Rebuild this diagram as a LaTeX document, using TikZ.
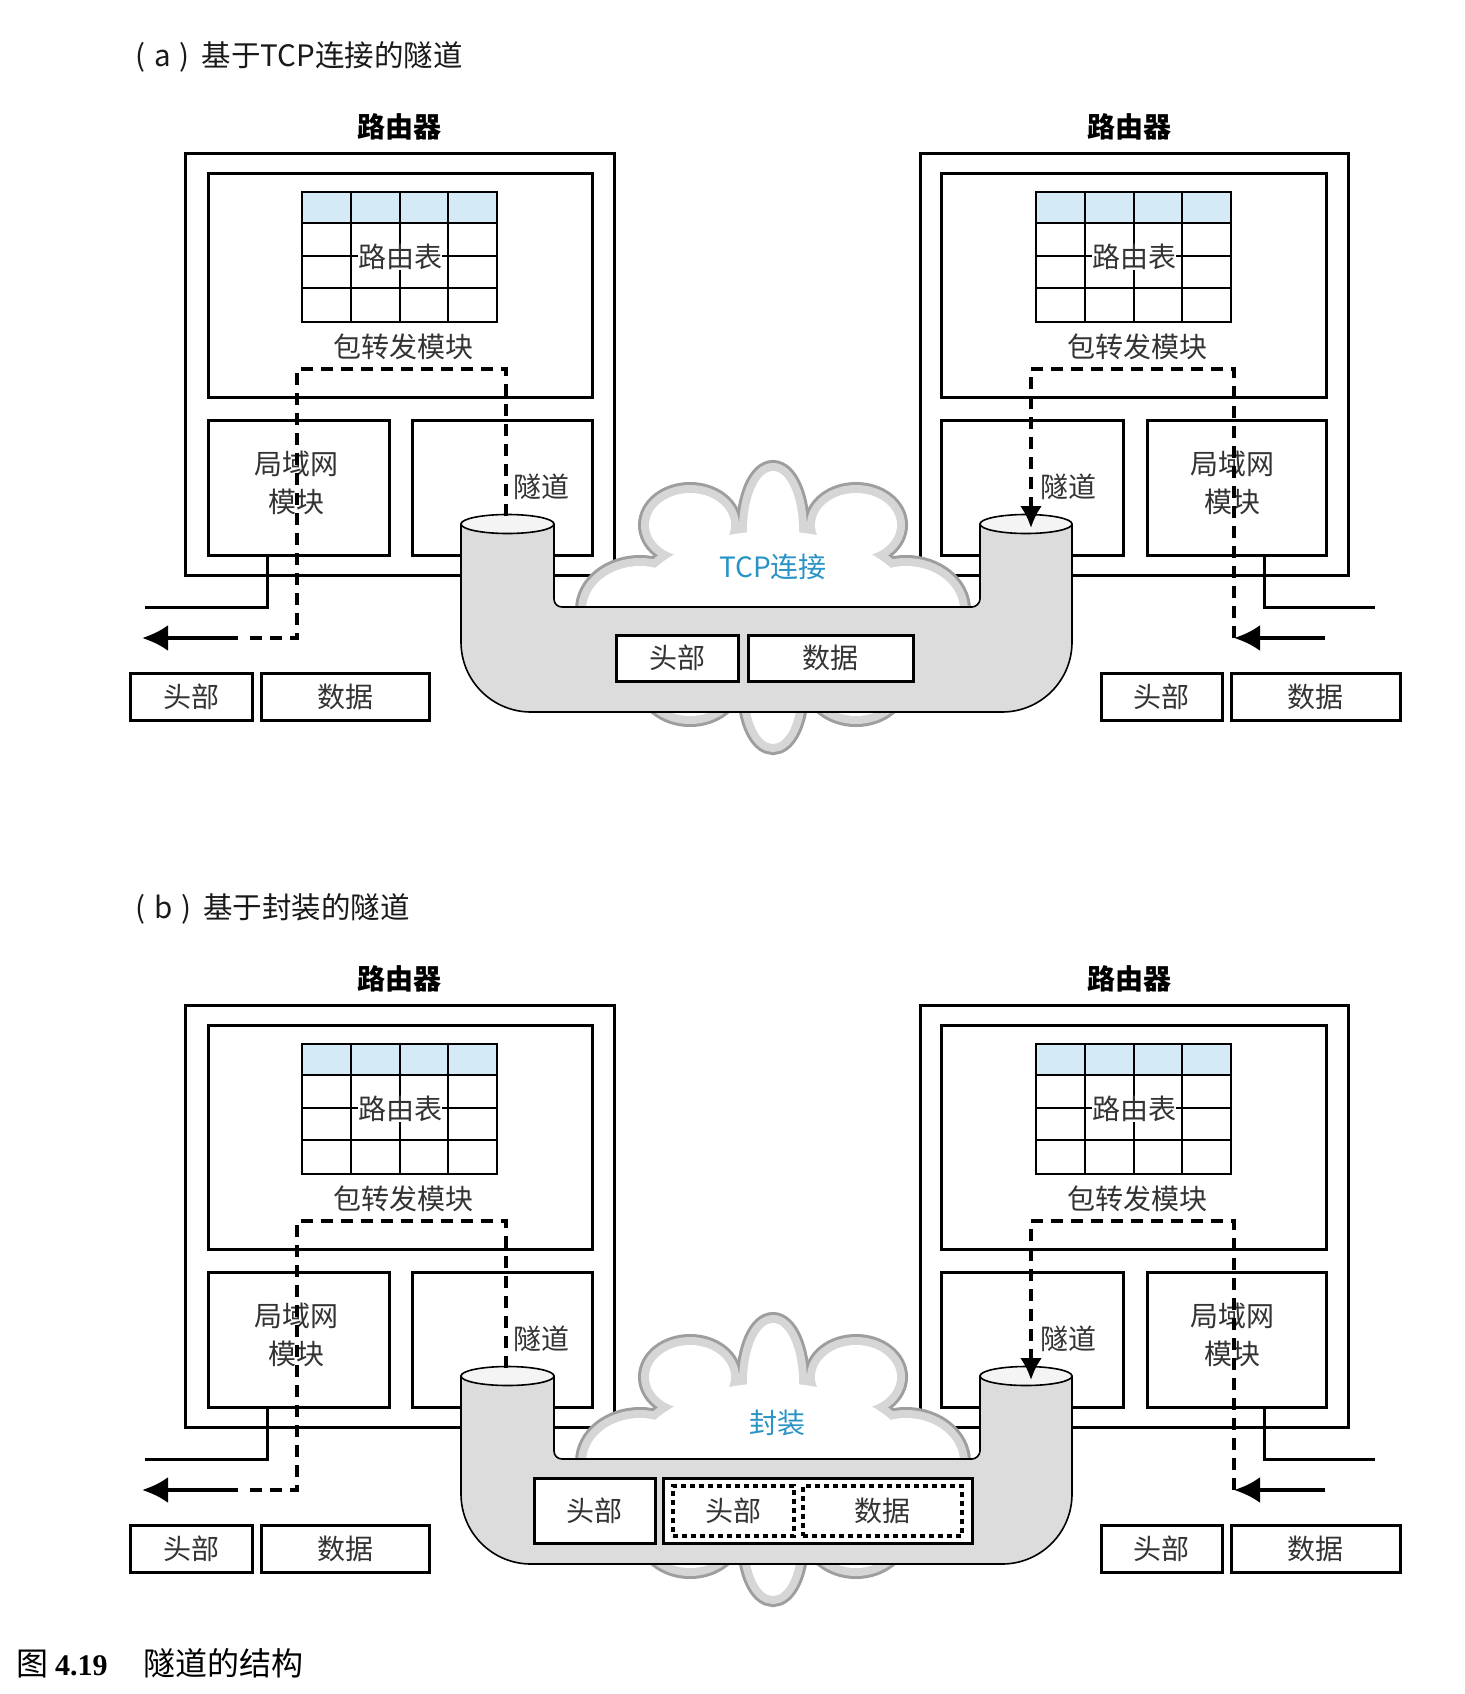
\documentclass[tikz,border=0pt]{standalone}
\usepackage{fontspec}
\usetikzlibrary{arrows.meta}
\newfontfamily\cjk{Noto Sans CJK SC}
\newfontfamily\capserif{Liberation Serif}
\definecolor{txtgray}{HTML}{333333}
\definecolor{hdrblue}{HTML}{D4EAF7}
\definecolor{tubegray}{HTML}{DCDCDC}
\definecolor{rimdark}{HTML}{9E9E9E}
\definecolor{rimlight}{HTML}{D6D6D6}
\definecolor{cloudblue}{HTML}{2A93C6}
\definecolor{topgray}{HTML}{F4F4F4}
\newcommand\lblfont{\cjk\fontsize{28pt}{38pt}\selectfont}
\newcommand\ttlfont{\cjk\fontsize{29.5pt}{32pt}\selectfont}
\newcommand\hdfont{\cjk\bfseries\fontsize{28pt}{30pt}\selectfont}
\tikzset{
  boxline/.style={draw=black, line width=3pt},
  tblline/.style={draw=black, line width=1.8pt},
  lbl/.style={font=\lblfont, text=txtgray, inner sep=0pt},
  hd/.style={font=\hdfont, text=black, inner sep=0pt},
  ttl/.style={font=\ttlfont, text=black!90, inner sep=0pt, anchor=west},
  pktbox/.style={draw=black, line width=3pt, fill=white, font=\lblfont, text=txtgray, inner sep=0pt},
  innerpkt/.style={draw=black, line width=3.2pt, dash pattern=on 5pt off 4pt, font=\lblfont, text=txtgray, inner sep=0pt},
  dashpath/.style={draw=black, line width=4pt, dash pattern=on 12pt off 8pt},
  arrowline/.style={draw=black, line width=4pt},
  tubebody/.style={draw=black, line width=1.6pt, fill=tubegray, line join=round},
  tubetop/.style={draw=black, line width=1.6pt, fill=topgray},
  cloudtxt/.style={font=\lblfont, text=cloudblue, inner sep=0pt},
}
\newcommand\cloudshape[1]{%
  \path[#1] (773,530) ellipse [x radius=26pt, y radius=59pt];
  \path[#1] (690,525) ellipse [x radius=41pt, y radius=32pt];
  \path[#1] (856,525) ellipse [x radius=41pt, y radius=32pt];
  \path[#1] (640,610) ellipse [x radius=54pt, y radius=44pt];
  \path[#1] (906,610) ellipse [x radius=54pt, y radius=44pt];
  \path[#1] (690,680) ellipse [x radius=44pt, y radius=36pt];
  \path[#1] (856,680) ellipse [x radius=44pt, y radius=36pt];
  \path[#1] (773,690) ellipse [x radius=25pt, y radius=54pt];
  \path[#1] (773,610) ellipse [x radius=139pt, y radius=79pt];
}
\newcommand\onepart[2]{%
\begin{scope}[yshift=#2]
  % ---------- left router ----------
  \node[hd] (#1Lname) at (399,127) {路由器};
  \draw[boxline] (185,153) rectangle (614,575);
  \draw[boxline] (208,173) rectangle (592,397);
  \fill[hdrblue] (302,192) rectangle (497,223);
  \draw[tblline] (302,192) rectangle (497,322);
  \draw[tblline] (302,223) -- (497,223) (302,256) -- (497,256) (302,288) -- (497,288)
        (351,192) -- (351,322) (400,192) -- (400,322) (448,192) -- (448,322);
  \node[lbl, fill=white] (#1Ltab) at (400,257) {路由表};
  \node[lbl] (#1Lfwd) at (403,347) {包转发模块};
  \draw[boxline] (208,420) rectangle (389,555);
  \draw[boxline] (412,420) rectangle (592,555);
  \node[lbl, align=center] (#1Llan) at (296,483) {局域网\\模块};
  \node[lbl] (#1Ltun) at (541,487) {隧道};
  % ---------- right router ----------
  \node[hd] (#1Rname) at (1129,127) {路由器};
  \draw[boxline] (920,153) rectangle (1348,575);
  \draw[boxline] (941,173) rectangle (1326,397);
  \fill[hdrblue] (1036,192) rectangle (1231,223);
  \draw[tblline] (1036,192) rectangle (1231,322);
  \draw[tblline] (1036,223) -- (1231,223) (1036,256) -- (1231,256) (1036,288) -- (1231,288)
        (1085,192) -- (1085,322) (1134,192) -- (1134,322) (1182,192) -- (1182,322);
  \node[lbl, fill=white] (#1Rtab) at (1134,257) {路由表};
  \node[lbl] (#1Rfwd) at (1137,347) {包转发模块};
  \draw[boxline] (941,420) rectangle (1123,555);
  \draw[boxline] (1147,420) rectangle (1326,555);
  \node[lbl] (#1Rtun) at (1068,487) {隧道};
  \node[lbl, align=center] (#1Rlan) at (1232,483) {局域网\\模块};
  % ---------- LAN wires ----------
  \coordinate (#1Lw1) at (267,555); \coordinate (#1Lw2) at (267,607); \coordinate (#1Lw3) at (145,607);
  \coordinate (#1Rw1) at (1264,555); \coordinate (#1Rw2) at (1264,607); \coordinate (#1Rw3) at (1375,607);
  \draw[boxline] (#1Lw1) -- (#1Lw2) -- (#1Lw3);
  \draw[boxline] (#1Rw1) -- (#1Rw2) -- (#1Rw3);
  % ---------- cloud ----------
  \cloudshape{draw=rimdark, line width=22pt}
  \cloudshape{draw=rimlight, line width=16pt}
  \cloudshape{fill=white}
  % ---------- tube ----------
  \draw[tubebody] (461,524) -- (461,642) .. controls (461,680.7) and (492.3,712) .. (531,712)
     -- (1002,712) .. controls (1040.7,712) and (1072,680.7) .. (1072,642)
     -- (1072,524) -- (980,524) -- (980,599) .. controls (980,603.4) and (975.6,607) .. (972,607)
     -- (562,607) .. controls (557.4,607) and (554,603.4) .. (554,599) -- (554,524) -- cycle;
  \draw[tubetop] (507.5,524) ellipse [x radius=46.5pt, y radius=9.5pt];
  \draw[tubetop] (1026,524) ellipse [x radius=46pt, y radius=9.5pt];
  % ---------- dashed paths and arrows ----------
  \coordinate (#1La) at (506,516); \coordinate (#1Lb) at (506,369); \coordinate (#1Lc) at (297,369);
  \coordinate (#1Ld) at (297,638); \coordinate (#1Le) at (243,638);
  \coordinate (#1Lf) at (238,638); \coordinate (#1Lg) at (142,638);
  \draw[dashpath] (#1La) -- (#1Lb) -- (#1Lc) -- (#1Ld) -- (#1Le);
  \draw[arrowline, -{Latex[length=26pt,width=26pt]}] (#1Lf) -- (#1Lg);
  \coordinate (#1Ra) at (1325,638); \coordinate (#1Rb) at (1234,638); \coordinate (#1Rc) at (1234,369);
  \coordinate (#1Rd) at (1031,369); \coordinate (#1Re) at (1031,528);
  \draw[arrowline, -{Latex[length=26pt,width=26pt]}] (#1Ra) -- (#1Rb);
  \draw[dashpath, -{Latex[length=22pt,width=22pt]}] (#1Rb) -- (#1Rc) -- (#1Rd) -- (#1Re);
  % ---------- outside packets ----------
  \node[pktbox, minimum width=122pt, minimum height=47pt] (#1Lhead) at (191,696.5) {头部};
  \node[pktbox, minimum width=168pt, minimum height=47pt] (#1Ldata) at (345,696.5) {数据};
  \node[pktbox, minimum width=121pt, minimum height=47pt] (#1Rhead) at (1161.5,696.5) {头部};
  \node[pktbox, minimum width=169pt, minimum height=47pt] (#1Rdata) at (1315.5,696.5) {数据};
\end{scope}}
\begin{document}
\begin{tikzpicture}[x=1pt, y=-1pt]
  \useasboundingbox (0,0) rectangle (1464,1694);
  \fill[white] (0,0) rectangle (1464,1694);
  % ===== part (a) =====
  \node[ttl] (titleA) at (135,57) {(\hspace{9pt}a\hspace{9pt})\hspace{12pt}基于TCP连接的隧道};
  \onepart{a}{0pt}
  \node[cloudtxt] (aCloud) at (773,567) {TCP连接};
  \node[pktbox, minimum width=122pt, minimum height=46pt] (aThead) at (677,658) {头部};
  \node[pktbox, minimum width=165pt, minimum height=46pt] (aTdata) at (830.5,658) {数据};
  % ===== part (b) =====
  \node[ttl] (titleB) at (135,909) {(\hspace{9pt}b\hspace{9pt})\hspace{12pt}基于封装的隧道};
  \onepart{b}{-852pt}
  \begin{scope}[yshift=-852pt]
    \node[cloudtxt] (bCloud) at (777,571) {封装};
    \node[pktbox, minimum width=121pt, minimum height=65pt] (bThead) at (594.5,658.5) {头部};
    \node[pktbox, minimum width=309pt, minimum height=65pt] (bTouter) at (817.5,658.5) {};
    \node[innerpkt, minimum width=121pt, minimum height=50pt] (bTihead) at (733.5,659) {头部};
    \node[innerpkt, minimum width=159pt, minimum height=50pt] (bTidata) at (882.5,659) {数据};
  \end{scope}
  % ===== caption =====
  \node[anchor=west, inner sep=0pt] (caption) at (16,1663)
    {\cjk\fontsize{32pt}{34pt}\selectfont 图\hspace{7pt}{\capserif\bfseries\fontsize{30pt}{32pt}\selectfont 4.19}\hspace{36pt}隧道的结构};
\end{tikzpicture}
\end{document}
